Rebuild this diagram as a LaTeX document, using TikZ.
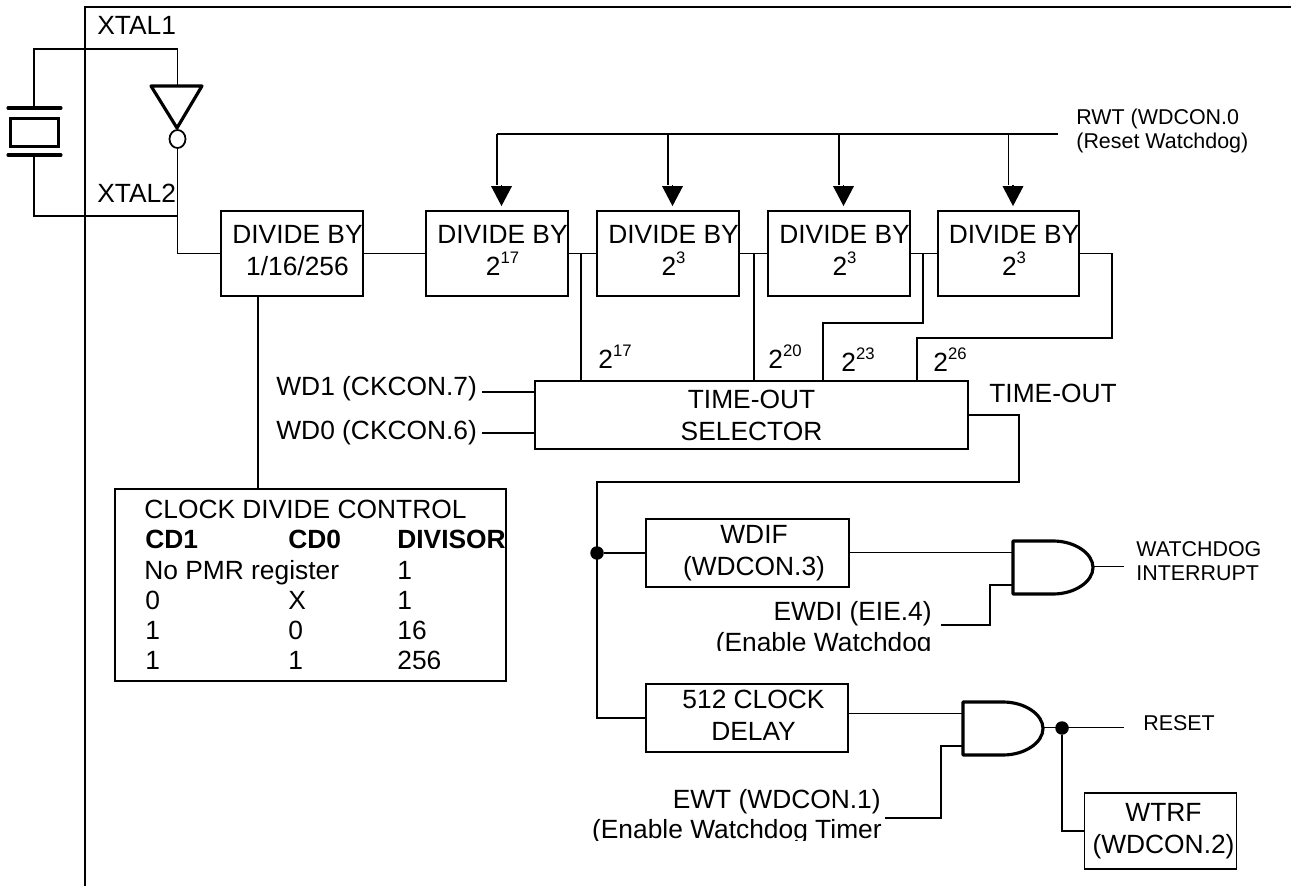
\documentclass[tikz,border=0pt]{standalone}
\usepackage{fontspec}
\setmainfont{Liberation Sans}
\usetikzlibrary{arrows.meta,shapes.geometric}
\newcommand{\expo}[2]{#1\smash{\raisebox{.48em}{\fontsize{9.5}{9.5}\selectfont #2}}}
\newcommand{\divtext}[3][.22cm]{\hspace*{#1}\begin{tabular}{@{}c@{}}#2\\#3\end{tabular}}
\tikzset{wire/.style={line width=1pt},
  heavy/.style={line width=1.8pt},
  big/.style={font=\fontsize{15}{18.2}\selectfont},
  small/.style={font=\fontsize{12.2}{14}\selectfont},
  txt/.style={big,inner sep=0pt,anchor=base west},
  txtr/.style={txt,anchor=base east},
  boldtxt/.style={txt,font=\fontsize{15}{18.2}\selectfont\bfseries},
  stxt/.style={small,inner sep=0pt,anchor=base west},
  box/.style={draw,wire,big,inner sep=0pt,align=center},
  divbox/.style={box,minimum width=2.8cm,minimum height=1.7cm},
  dot/.style={circle,fill=black,inner sep=0pt,minimum size=.27cm},
  arr/.style={wire,-{Triangle[length=.4cm,width=.41cm]}},
  andgate/.pic={
    \draw[heavy,line join=round] (0,-26.5) -- (40,-26.5) .. controls (62,-26.5) and (80,-14) .. (80,0)
      .. controls (80,14) and (62,26.5) .. (40,26.5) -- (0,26.5) -- cycle;
    \coordinate (-in1) at (0,-15);
    \coordinate (-in2) at (0,17.5);
    \coordinate (-out) at (80,0);
  }}
\begin{document}
\begin{tikzpicture}[x=.02cm,y=-.02cm]
\useasboundingbox (0,0) rectangle (1291,888);
% chip outline
\draw[wire] (85,886) -- (85,7) -- (1291,7);
% crystal
\node[draw,line width=2pt,minimum width=.96cm,minimum height=.56cm,inner sep=0pt] (xtal) at (34.5,132.5) {};
\draw[heavy,line cap=round] (8,108) -- (61,108);
\draw[heavy,line cap=round] (8,155) -- (61,155);
\coordinate (plA) at (34,108);
\coordinate (plB) at (34,155);
% inverter
\draw[heavy,line join=round] (151,86) -- (202,86) -- (177,128) -- cycle;
\coordinate (invtop) at (177.5,86);
\node[draw,wire,ellipse,fill=white,minimum width=.32cm,minimum height=.36cm,inner sep=0pt] (bub) at (177.5,139) {};
\draw[wire] (plA) |- (177.5,49) -- (invtop);
\draw[wire] (plB) |- (177.5,216);
\node[txt] (xtalA) at (97,35) {XTAL1};
\node[txt] (xtalB) at (97,203) {XTAL2};
% divider chain
\node[divbox] (div1) at (292,253.5) {\divtext{DIVIDE BY}{1/16/256}};
\node[divbox] (div2) at (497,253.5) {\divtext{DIVIDE BY}{\expo{2}{17}}};
\node[divbox] (div3) at (668,253.5) {\divtext{DIVIDE BY}{\expo{2}{3}}};
\node[divbox] (div4) at (839,253.5) {\divtext{DIVIDE BY}{\expo{2}{3}}};
\node[divbox] (div5) at (1008.5,253.5) {\divtext{DIVIDE BY}{\expo{2}{3}}};
\draw[wire] (bub.south) |- (div1.west);
\foreach \a/\b in {div1/div2,div2/div3,div3/div4,div4/div5}
  \draw[wire] (\a.east) -- (\b.west);
% reset watchdog line
\coordinate (rwt) at (1058,134);
\draw[wire] (div2.north |- rwt) -- (rwt);
\foreach \bx in {div2,div3,div4,div5}{
  \draw[wire] (\bx.north |- rwt) -- ([yshift=.5cm]\bx.north);
  \draw[arr] ([xshift=.09cm,yshift=.5cm]\bx.north) -- ([xshift=.09cm,yshift=.08cm]\bx.north);
}
\node[stxt] (rwtA) at (1076,125) {RWT (WDCON.0};
\node[stxt] (rwtB) at (1076,149) {(Reset Watchdog)};
% time-out selector
\node[box,minimum width=8.66cm,minimum height=1.36cm] (sel) at (751.5,415) {TIME-OUT\\SELECTOR};
\coordinate (tapA) at (581,300);
\coordinate (tapB) at (754,300);
\coordinate (tapC) at (923,323);
\coordinate (tapD) at (823,323);
\coordinate (tapE) at (1112,338);
\coordinate (tapF) at (917,338);
\draw[wire] (tapA |- div2.east) -- (tapA |- sel.north);
\draw[wire] (tapB |- div3.east) -- (tapB |- sel.north);
\draw[wire] (tapC |- div4.east) -- (tapC) -- (tapD) -- (tapD |- sel.north);
\draw[wire] (div5.east) -| (tapE) -- (tapF) -- (tapF |- sel.north);
\node[txt] (expA) at (598,369) {\expo{2}{17}};
\node[txt] (expB) at (768,369) {\expo{2}{20}};
\node[txt] (expC) at (841,372) {\expo{2}{23}};
\node[txt] (expD) at (933,372) {\expo{2}{26}};
\node[txt] (wdA) at (276,396) {WD1 (CKCON.7)};
\node[txt] (wdB) at (276,439) {WD0 (CKCON.6)};
\coordinate (wdAend) at (482,392);
\coordinate (wdBend) at (482,433);
\draw[wire] (wdAend) -- (wdAend -| sel.west);
\draw[wire] (wdBend) -- (wdBend -| sel.west);
\node[txt] (tout) at (989,402) {TIME-OUT};
% clock divide table
\node[box,minimum width=7.82cm,minimum height=3.84cm] (clk) at (310.5,585) {};
\coordinate (cdtap) at (258,400);
\draw[wire] (cdtap |- div1.south) -- (cdtap |- clk.north);
\node[txt] (clkT) at (144,518) {CLOCK DIVIDE CONTROL};
\node[boldtxt] (cdA) at (145,548) {CD1};
\node[boldtxt] (cdB) at (288,548) {CD0};
\node[boldtxt] (cdC) at (397,548) {DIVISOR};
\node[txt] (rowA) at (144,579) {No PMR register};
\node[txt] (rowAc) at (397,579) {1};
\node[txt] (rowB) at (145,609) {0};
\node[txt] (rowBb) at (288,609) {X};
\node[txt] (rowBc) at (397,609) {1};
\node[txt] (rowC) at (145,639) {1};
\node[txt] (rowCb) at (288,639) {0};
\node[txt] (rowCc) at (397,639) {16};
\begin{scope}
\clip (115,645) rectangle (506,668);
\node[txt] (rowD) at (145,669) {1};
\node[txt] (rowDb) at (288,669) {1};
\node[txt] (rowDc) at (397,669) {256};
\end{scope}
% outputs
\node[box,minimum width=4.06cm,minimum height=1.36cm] (wdif) at (747.5,553) {\divtext[.26cm]{WDIF}{(WDCON.3)}};
\node[box,minimum width=4.04cm,minimum height=1.36cm] (delay) at (747,718) {\raisebox{.1cm}{\divtext[.26cm]{512 CLOCK}{DELAY}}};
\node[dot] (join) at (597,553) {};
\coordinate (toutA) at (1019,482);
\draw[wire] (sel.east) -| (toutA) -- (join |- toutA) |- (delay.west);
\draw[wire] (join) -- (wdif.west);
\pic (gw) at (1013,567.5) {andgate};
\pic (gr) at (963,728.5) {andgate};
\draw[wire] (wdif.east |- gw-in1) -- (gw-in1);
\draw[wire] (delay.east |- gr-in1) -- (gr-in1);
\coordinate (ewdi) at (941,625);
\coordinate (ewt) at (885,818);
\coordinate (ewdiK) at (990,625);
\coordinate (ewtK) at (941,818);
\draw[wire] (ewdi) -- (ewdiK) |- (gw-in2);
\draw[wire] (ewt) -- (ewtK) |- (gr-in2);
\node[txtr] (ewdiA) at (932,620) {EWDI (EIE.4)};
\node[txtr] (ewtA) at (881,808) {EWT (WDCON.1)};
\begin{scope}
\clip (600,630) rectangle (940,650);
\node[txtr] (ewdiB) at (932,651) {(Enable Watchdog};
\end{scope}
\begin{scope}
\clip (580,815) rectangle (884,840);
\node[txtr] (ewtB) at (882,838) {(Enable Watchdog Timer};
\end{scope}
\coordinate (wirq) at (1124,566.5);
\draw[wire] (gw-out |- wirq) -- (wirq);
\node[stxt] (wirqA) at (1136,556) {WATCHDOG};
\node[stxt] (wirqB) at (1136,580) {INTERRUPT};
\coordinate (rst) at (1124,727.5);
\draw[wire] (gr-out |- rst) -- (rst);
\node[dot] (rstdot) at (1062,728) {};
\node[stxt] (rstT) at (1143,730) {RESET};
\node[box,minimum width=3.04cm,minimum height=1.52cm] (wtrf) at (1160.5,831) {\raisebox{.08cm}{\divtext[.12cm]{WTRF}{(WDCON.2)}}};
\draw[wire] (rstdot) |- (wtrf.west);
\end{tikzpicture}
\end{document}
